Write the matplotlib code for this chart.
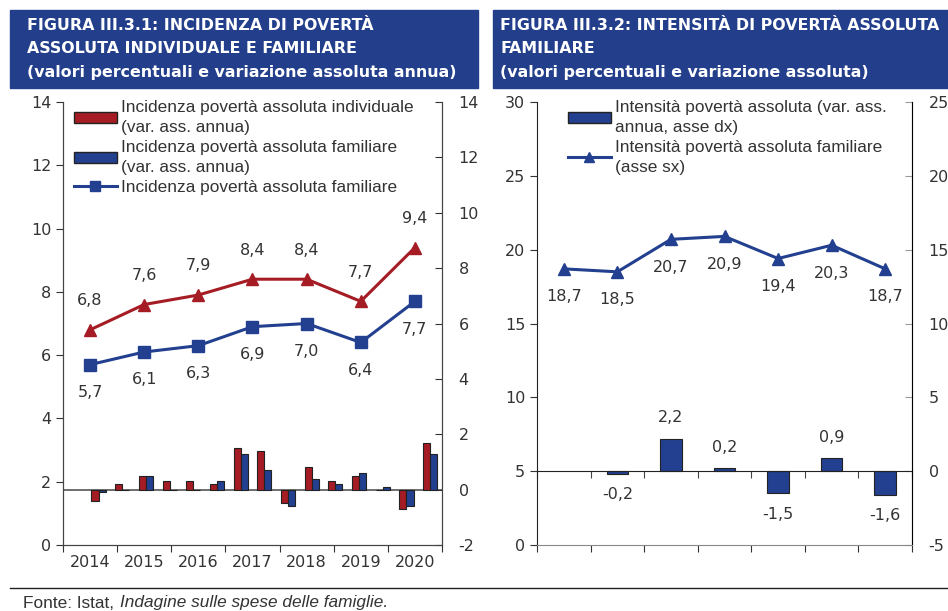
import numpy as np
import matplotlib
matplotlib.use('Agg')
import matplotlib.pyplot as plt
from matplotlib.patches import Rectangle, Patch
from matplotlib.lines import Line2D

# dati
anni = ['2014', '2015', '2016', '2017', '2018', '2019', '2020']
inc_individuale = [6.8, 7.6, 7.9, 8.4, 8.4, 7.7, 9.4]
inc_familiare = [5.7, 6.1, 6.3, 6.9, 7.0, 6.4, 7.7]
# variazioni assolute (barre, asse dx): 15 periodi su 16 slot
var_individuale = [-0.4, 0.2, 0.5, 0.3, 0.3, 0.2, 1.5, 1.4, -0.5, 0.8, 0.3, 0.5, 0.0, -0.7, 1.7]
var_familiare = [-0.1, 0.0, 0.5, 0.0, 0.0, 0.3, 1.3, 0.7, -0.6, 0.4, 0.2, 0.6, 0.1, -0.6, 1.3]

int_familiare = [18.7, 18.5, 20.7, 20.9, 19.4, 20.3, 18.7]
anni_var = ['2015', '2016', '2017', '2018', '2019', '2020']
var_intensita = [-0.2, 2.2, 0.2, -1.5, 0.9, -1.6]

ROSSO = '#a51c24'
BLU = '#22408f'
TESTO = '#333333'
BOX = '#233f8c'

plt.rcParams['font.family'] = ['DejaVu Sans']
plt.rcParams['axes.unicode_minus'] = False
plt.rcParams['text.color'] = TESTO
plt.rcParams['xtick.color'] = TESTO
plt.rcParams['ytick.color'] = TESTO
plt.rcParams['xtick.labelcolor'] = TESTO
plt.rcParams['ytick.labelcolor'] = TESTO

W, H = 948, 611
fig = plt.figure(figsize=(W / 100, H / 100), dpi=100)


def fx(px):
    return px / W


def fy(py):
    return 1 - py / H


def virgola(v):
    return ('%.1f' % v).replace('.', ',')


# riquadri del titolo
for x0, x1, xt, righe in [(10, 478, 27, ['FIGURA III.3.1: INCIDENZA DI POVERTÀ',
                                         'ASSOLUTA INDIVIDUALE E FAMILIARE',
                                         '(valori percentuali e variazione assoluta annua)']),
                          (493, 948, 500, ['FIGURA III.3.2: INTENSITÀ DI POVERTÀ ASSOLUTA',
                                           'FAMILIARE',
                                           '(valori percentuali e variazione assoluta)'])]:
    fig.patches.append(Rectangle((fx(x0), fy(88)), fx(x1 - x0), 78 / H,
                                 transform=fig.transFigure, color=BOX, zorder=0))
    for k, riga in enumerate(righe):
        fig.text(fx(xt), fy(25 + 23.5 * k), riga, color='white', fontsize=11.4,
                 fontweight='bold', va='center')

bottom = fy(545)
height = 443 / H
legprop = {'family': 'Liberation Sans', 'size': 12.4}

# ---------------- grafico sinistro ----------------
ax = fig.add_axes([fx(63), bottom, fx(379), height])
ax2 = ax.twinx()
ax.set_zorder(2)
ax.patch.set_visible(False)

x = np.arange(len(anni)) + 0.5
slot = len(anni) / 16
xb = (np.arange(1, 16) + 0.5) * slot
wb = 0.13
ax2.axhline(0, color='#555555', lw=1.2, zorder=1)
ax2.bar(xb - wb / 2, var_individuale, wb, color=ROSSO, edgecolor='#222222', lw=0.8, zorder=2)
ax2.bar(xb + wb / 2, var_familiare, wb, color=BLU, edgecolor='#222222', lw=0.8, zorder=2)

ax.plot(x, inc_individuale, color=ROSSO, lw=2.2, marker='^', ms=9)
ax.plot(x, inc_familiare, color=BLU, lw=2.2, marker='s', ms=8)
for xi, v in zip(x, inc_individuale):
    ax.annotate(virgola(v), (xi, v), xytext=(0, 21), textcoords='offset points',
                ha='center', va='center', fontsize=11.5)
for xi, v in zip(x, inc_familiare):
    ax.annotate(virgola(v), (xi, v), xytext=(0, -20), textcoords='offset points',
                ha='center', va='center', fontsize=11.5)

ax.set_xlim(0, len(anni))
ax.set_ylim(0, 14)
ax.set_yticks(range(0, 15, 2))
ax2.set_ylim(-2, 14)
ax2.set_yticks(range(-2, 15, 2))
ax.set_xticks(np.arange(len(anni) + 1))
ax.set_xticklabels([])
ax.set_xticks(x, minor=True)
ax.set_xticklabels(anni, minor=True, fontsize=11.5)
ax.tick_params(axis='x', which='minor', length=0, pad=7)
ax.tick_params(axis='x', which='major', length=5, direction='out')
ax.tick_params(axis='y', length=5, direction='out', labelsize=11.5)
ax2.tick_params(axis='y', length=5, direction='in', labelsize=11.5, pad=12)
for a in (ax, ax2):
    a.spines['top'].set_visible(False)
    for s in ('left', 'right', 'bottom'):
        a.spines[s].set_color('#444444')

leg = ax.legend(handles=[Patch(facecolor=ROSSO, edgecolor='#222222'),
                         Patch(facecolor=BLU, edgecolor='#222222'),
                         Line2D([], [], color=BLU, lw=2.2, marker='s', ms=7)],
                labels=['Incidenza povertà assoluta individuale\n(var. ass. annua)',
                        'Incidenza povertà assoluta familiare\n(var. ass. annua)',
                        'Incidenza povertà assoluta familiare'],
                loc='upper left', bbox_to_anchor=(0.01, 1.02), frameon=False,
                handlelength=2.5, handleheight=0.65, handletextpad=0.25,
                labelspacing=0.3, borderaxespad=0, prop=legprop)
for t in leg.get_texts():
    t.set_linespacing(1.4)

# ---------------- grafico destro ----------------
bx = fig.add_axes([fx(537), bottom, fx(375), height])
bx2 = bx.twinx()
bx.set_zorder(2)
bx.patch.set_visible(False)

xv = np.array([anni.index(a) for a in anni_var]) + 0.5
bx2.bar(xv, var_intensita, 0.4, color=BLU, edgecolor='#222222', lw=0.8, zorder=2)
for xi, v in zip(xv, var_intensita):
    bx2.annotate(virgola(v), (xi, v), xytext=(0, 15 if v > 0 else -15),
                 textcoords='offset points', ha='center', va='center', fontsize=11.5)

bx.plot(x, int_familiare, color=BLU, lw=2.2, marker='^', ms=9)
for xi, v in zip(x, int_familiare):
    bx.annotate(virgola(v), (xi, v), xytext=(0, -20), textcoords='offset points',
                ha='center', va='center', fontsize=11.5)

bx.set_xlim(0, len(anni))
bx.set_ylim(0, 30)
bx.set_yticks(range(0, 31, 5))
bx2.set_ylim(-5, 25)
bx2.set_yticks(range(-5, 26, 5))
bx.set_xticks(np.arange(len(anni) + 1))
bx.set_xticklabels([])
bx.set_xticks(x, minor=True)
bx.set_xticklabels(anni, minor=True, fontsize=11.5)
bx.tick_params(axis='x', which='minor', length=0, pad=7)
bx.tick_params(axis='x', which='major', length=5, direction='out')
bx.tick_params(axis='y', length=5, direction='out', labelsize=11.5)
bx2.tick_params(axis='y', length=5, direction='in', labelsize=11.5, pad=12,
                color='#999999')

# linea dello zero con tacche sull'asse secondario
bx2.xaxis.set_visible(True)
bx2.spines['bottom'].set_visible(True)
bx2.spines['bottom'].set_position(('data', 0))
bx2.spines['bottom'].set_color('#222222')
bx2.spines['bottom'].set_zorder(3)
bx2.set_xticks(np.arange(len(anni) + 1))
bx2.tick_params(axis='x', which='both', bottom=True, top=False, labelbottom=False,
                length=5, direction='out', color='#444444')
bx2.set_xticks([], minor=True)

for a in (bx, bx2):
    a.spines['top'].set_visible(False)
bx.spines['left'].set_color('#222222')
bx.spines['bottom'].set_color('#888888')
bx2.spines['right'].set_color('#999999')
bx2.spines['left'].set_visible(False)

leg2 = bx.legend(handles=[Patch(facecolor=BLU, edgecolor='#222222'),
                          Line2D([], [], color=BLU, lw=2.2, marker='^', ms=7)],
                 labels=['Intensità povertà assoluta (var. ass.\nannua, asse dx)',
                         'Intensità povertà assoluta familiare\n(asse sx)'],
                 loc='upper left', bbox_to_anchor=(0.064, 1.02), frameon=False,
                 handlelength=2.5, handleheight=0.65, handletextpad=0.25,
                 labelspacing=0.3, borderaxespad=0, prop=legprop)
for t in leg2.get_texts():
    t.set_linespacing(1.4)

# fonte
fig.add_artist(Line2D([fx(10), 1], [fy(588), fy(588)], color='#222222', lw=1))
fig.text(fx(23), fy(603), 'Fonte: Istat, ', fontsize=12.4, family='Liberation Sans',
         va='center', color=TESTO)
fig.text(fx(23 + 97), fy(603), 'Indagine sulle spese delle famiglie.', fontsize=12.4,
         family='Liberation Sans', style='italic', va='center', color=TESTO)

fig.savefig('out.png', dpi=100)
